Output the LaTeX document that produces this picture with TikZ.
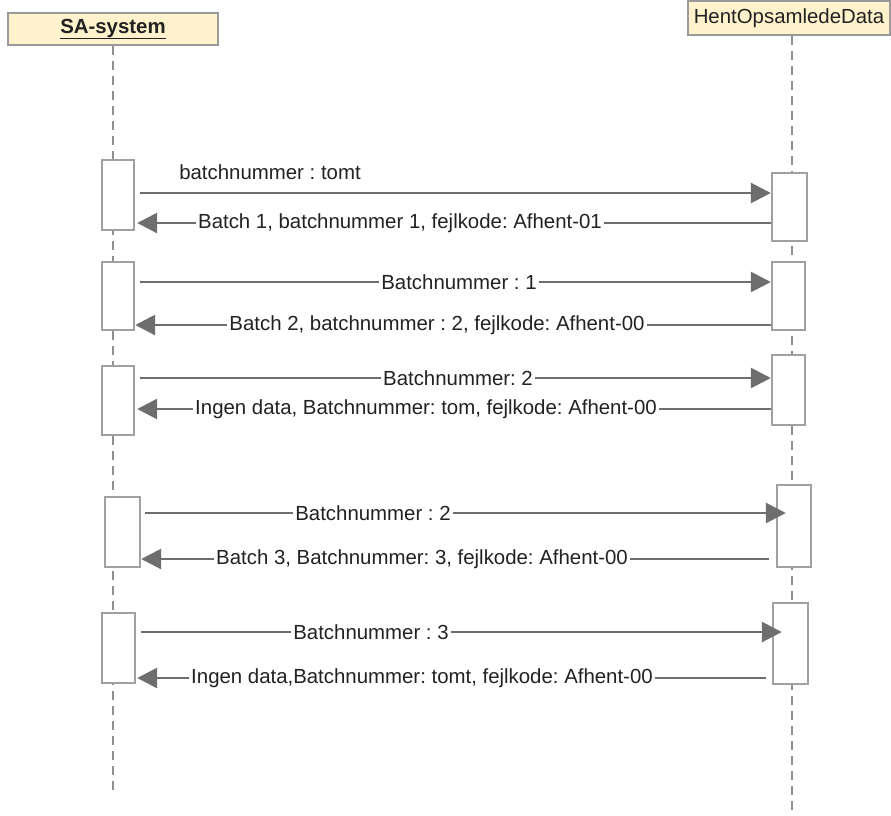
\documentclass[tikz,border=0pt]{standalone}
\usepackage{fontspec}
\setmainfont{Liberation Sans}
\usetikzlibrary{arrows.meta}
\definecolor{hdrfill}{HTML}{FFF2CC}
\definecolor{hdrline}{HTML}{9A9A9A}
\definecolor{actline}{HTML}{A0A0A0}
\definecolor{lifeline}{HTML}{909090}
\definecolor{msgline}{HTML}{6E6E6E}
\definecolor{txt}{HTML}{222222}
\frenchspacing
\begin{document}
\begin{tikzpicture}[x=1pt,y=-1pt,
  every node/.style={font=\frenchspacing\fontsize{20.4}{24}\selectfont, text=txt},
  hdr/.style={draw=hdrline, line width=2.6pt, fill=hdrfill, inner sep=0pt},
  act/.style={draw=actline, line width=2.4pt, fill=white, inner sep=0pt, minimum width=32pt},
  life/.style={draw=lifeline, line width=2.6pt, dash pattern=on 9pt off 6pt},
  msg/.style={draw=msgline, line width=2.8pt, -{Triangle[length=20pt,width=20pt]}},
  lbl/.style={fill=white, inner sep=2pt}]
\useasboundingbox (0,0) rectangle (891,815);
% headers
\node[hdr, minimum width=210pt, minimum height=32pt] (sa) at (113,29) {\textbf{\underline{SA-system}}};
\node[hdr, minimum width=202pt, minimum height=34pt] (hod) at (789,18) {HentOpsamledeData};
% lifelines
\coordinate (saend) at (113,790);
\coordinate (hodend) at (792,815);
\draw[life] (sa.south -| 113,0) -- (saend);
\draw[life] (hod.south -| 792,0) -- (hodend);
% activation boxes left
\node[act, minimum height=70pt] (la1) at (118,195) {};
\node[act, minimum height=68pt] (la2) at (118,296) {};
\node[act, minimum height=69pt] (la3) at (118,400.5) {};
\node[act, minimum width=35pt, minimum height=70pt] (la4) at (122.5,532) {};
\node[act, minimum width=33pt, minimum height=70pt] (la5) at (118.5,648) {};
% activation boxes right
\node[act, minimum width=35pt, minimum height=68pt] (ra1) at (789.5,207) {};
\node[act, minimum width=33pt, minimum height=68pt] (ra2) at (788.5,296) {};
\node[act, minimum width=33pt, minimum height=70pt] (ra3) at (788.5,390) {};
\node[act, minimum width=34pt, minimum height=82pt] (ra4) at (794,526) {};
\node[act, minimum width=35pt, minimum height=81pt] (ra5) at (790.5,643.5) {};
% messages
\draw[msg] ([xshift=5pt]la1.east |- 0,193) -- (ra1.west |- 0,193);
\node (l1) at (270,172) {batchnummer : tomt};
\draw[msg] (ra1.west |- 0,223) -- ([xshift=2pt]la1.east |- 0,223);
\node[lbl] (l2) at (400,223) {Batch 1, batchnummer 1, fejlkode: Afhent-01};
\draw[msg] ([xshift=5pt]la2.east |- 0,282) -- (ra2.west |- 0,282);
\node[lbl] (l3) at (459,282) {Batchnummer : 1};
\draw[msg] (ra2.west |- 0,325) -- (la2.east |- 0,325);
\node[lbl] (l4) at (437,325) {Batch 2, batchnummer : 2, fejlkode: Afhent-00};
\draw[msg] ([xshift=5pt]la3.east |- 0,378) -- (ra3.west |- 0,378);
\node[lbl] (l5) at (458,378) {Batchnummer: 2};
\draw[msg] (ra3.west |- 0,409) -- ([xshift=2pt]la3.east |- 0,409);
\node[lbl] (l6) at (426,409) {Ingen data, Batchnummer: tom, fejlkode: Afhent-00};
\draw[msg] ([xshift=4pt]la4.east |- 0,513) -- ([xshift=10pt]ra4.west |- 0,513);
\node[lbl] (l7) at (373,513) {Batchnummer : 2};
\draw[msg] ([xshift=-7pt]ra4.west |- 0,559) -- (la4.east |- 0,559);
\node[lbl] (l8) at (422,559) {Batch 3, Batchnummer: 3, fejlkode: Afhent-00};
\draw[msg] ([xshift=5pt]la5.east |- 0,632) -- ([xshift=10pt]ra5.west |- 0,632);
\node[lbl] (l9) at (371,632) {Batchnummer : 3};
\draw[msg] ([xshift=-6pt]ra5.west |- 0,678) -- ([xshift=1pt]la5.east |- 0,678);
\node[lbl] (l10) at (422,678) {Ingen data,Batchnummer: tomt, fejlkode: Afhent-00};
\end{tikzpicture}
\end{document}
